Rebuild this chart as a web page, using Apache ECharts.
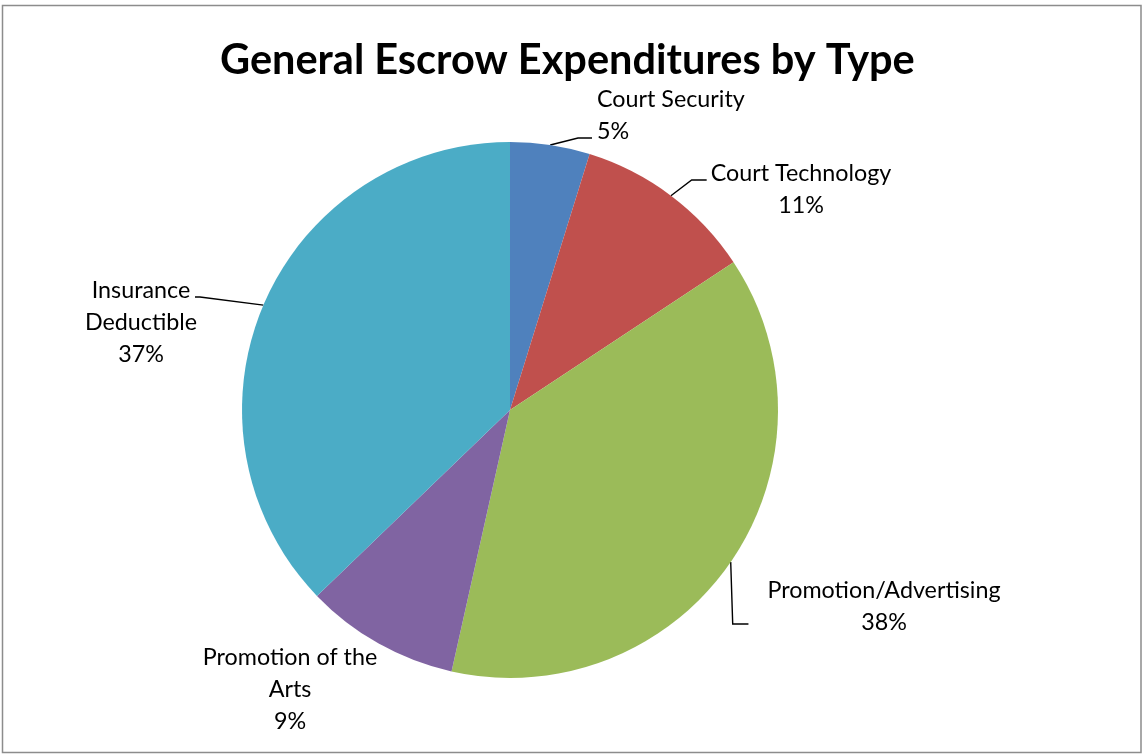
<!DOCTYPE html>
<html>
<head>
<meta charset="utf-8">
<script src="https://cdn.jsdelivr.net/npm/echarts@6/dist/echarts.min.js"></script>
<style>
html,body{margin:0;padding:0;background:#fff;}
#chart{width:1147px;height:754px;}
</style>
</head>
<body>
<div id="chart"></div>
<script>
// Data
var categories = ['Court Security', 'Court Technology', 'Promotion/Advertising', 'Promotion of the Arts', 'Insurance Deductible'];
var labelNames = ['Court Security', 'Court Technology', 'Promotion/Advertising', 'Promotion of the\nArts', 'Insurance\nDeductible'];
var shares = [4.8, 10.9, 37.8, 9.3, 37.2];
var colors = ['#4F81BD', '#C0504D', '#9BBB59', '#8064A2', '#4BACC6'];
var pctLabels = ['5%', '11%', '38%', '9%', '37%'];

// label placements (text anchor x, middle y, alignment)
var labelPlace = [
  {x: 597, y: 115, align: 'left'},
  {x: 801, y: 189, align: 'center'},
  {x: 884, y: 606, align: 'center'},
  {x: 290, y: 689, align: 'center'},
  {x: 141, y: 322, align: 'center'}
];

var chart = echarts.init(document.getElementById('chart'), null, {renderer: 'canvas'});
var FONT = 'Lato, "Open Sans", sans-serif';

var seriesData = categories.map(function (c, i) {
  var item = {
    name: c,
    value: shares[i],
    itemStyle: {color: colors[i]}
  };
  if (i === 3) item.labelLine = {show: false};
  return item;
});

function leader(i, anchor, lp, w) {
  var left = lp.align === 'left' ? lp.x : lp.x - w / 2;
  var end, elbow;
  if (i === 0) { end = [left - 5, lp.y + 23]; elbow = [left - 19, lp.y + 23]; }
  else if (i === 1) { end = [left - 4, lp.y - 9]; elbow = [left - 19, lp.y - 9]; }
  else if (i === 2) { end = [left - 19, lp.y + 18]; elbow = [anchor[0] + 2, lp.y + 18]; }
  else if (i === 4) { end = [lp.x + 54, lp.y - 25]; elbow = [lp.x + 59, lp.y - 25]; }
  else return null;
  return [anchor, elbow, end];
}

chart.setOption({
  backgroundColor: '#ffffff',
  animation: false,
  title: {
    text: 'General Escrow Expenditures by Type',
    left: 215,
    top: 35,
    textStyle: {fontFamily: FONT, fontSize: 41.5, fontWeight: 'bold', color: '#000'}
  },
  graphic: [{
    type: 'rect',
    shape: {x: 2.5, y: 5.5, width: 1138.5, height: 747},
    style: {fill: 'none', stroke: '#8c8c8c', lineWidth: 1.5},
    silent: true
  }],
  series: [{
    type: 'pie',
    center: [510, 410],
    radius: [0, 268],
    startAngle: 90,
    clockwise: true,
    data: seriesData,
    itemStyle: {borderWidth: 0},
    label: {
      show: true,
      position: 'outside',
      fontFamily: FONT,
      fontSize: 23.3,
      lineHeight: 32,
      color: '#000',
      formatter: function (p) {
        return labelNames[p.dataIndex] + '\n' + pctLabels[p.dataIndex];
      }
    },
    labelLine: {
      show: true,
      length: 15,
      length2: 10,
      lineStyle: {color: '#000', width: 1.4}
    },
    labelLayout: function (p) {
      var lp = labelPlace[p.dataIndex];
      var res = {x: lp.x, y: lp.y, align: lp.align, verticalAlign: 'middle'};
      if (p.labelLinePoints && p.labelLinePoints.length) {
        var pts = leader(p.dataIndex, p.labelLinePoints[0], lp, p.labelRect.width);
        if (pts) res.labelLinePoints = pts;
      }
      return res;
    }
  }]
});
</script>
</body>
</html>
